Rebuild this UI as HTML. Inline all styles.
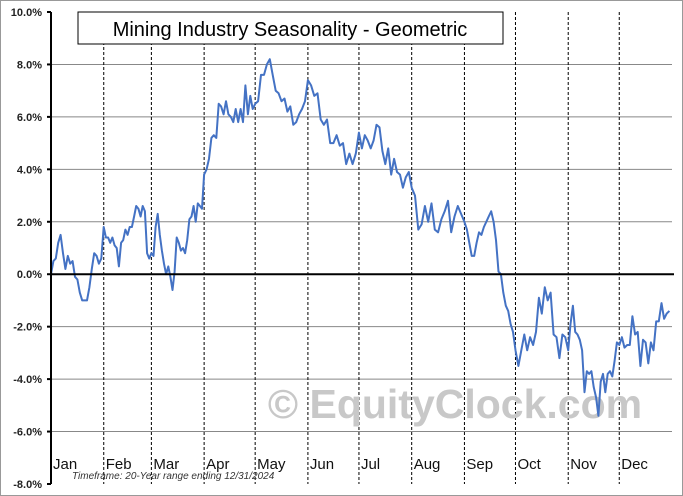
<!DOCTYPE html>
<html><head><meta charset="utf-8"><style>
body{margin:0;background:#fff}
svg{display:block;font-family:"Liberation Sans",sans-serif}
</style></head><body>
<svg width="683" height="496" viewBox="0 0 683 496" xmlns="http://www.w3.org/2000/svg">
<rect x="0.5" y="0.5" width="682" height="495" fill="#fff" stroke="#999"/>
<g id="grid"></g>
<text x="455" y="418" text-anchor="middle" font-size="41" font-weight="bold" fill="#c8c8c8">© EquityClock.com</text>
<g id="marks"></g>
<g id="axes"></g>
<rect x="78" y="12" width="425" height="32" fill="#fff" stroke="#000"/>
<text x="290" y="36" text-anchor="middle" font-size="20">Mining Industry Seasonality - Geometric</text>
<text x="72" y="479" font-size="10" font-style="italic" fill="#333">Timeframe: 20-Year range ending 12/31/2024</text>
</svg>
<script>
const monthLabels=["Jan","Feb","Mar","Apr","May","Jun","Jul","Aug","Sep","Oct","Nov","Dec"];
const monthStartDays=[0,31,59,90,120,151,181,212,243,273,304,334,365];
const yTicks=[-8,-6,-4,-2,0,2,4,6,8,10];
const janVals=[0,0.5,0.6,1.2,1.5,0.8,0.2,0.7,0.4,0.5,-0.1,-0.2,-0.7,-1.0,-1.0,-1.0,-0.5,0.2,0.8,0.7,0.4,0.6];
const febVals=[1.8,1.4,1.4,1.2,1.4,1.1,1.0,0.3,1.2,1.3,1.7,1.5,1.8,1.8,2.2,2.6,2.5,2.2,2.6,2.4,0.8,0.6];
const marVals=[0.8,0.7,1.8,2.3,1.5,0.9,0.4,0.0,0.3,-0.1,-0.6,0.1,1.4,1.2,0.9,1.0,0.8,1.3,2.1,2.2,2.6,2.0,2.7,2.6,2.5];
const aprVals=[3.8,4.0,4.4,5.2,5.3,5.2,6.5,6.4,6.1,6.6,6.1,6.0,5.8,6.3,5.8,6.3,5.8,7.2,6.1,6.8,6.3];
const mayVals=[6.5,6.6,7.6,7.6,8.0,8.2,7.6,7.0,6.9,6.6,6.7,6.2,6.4,5.7,5.8,6.1,6.3,6.6];
const junVals=[7.4,7.2,6.8,6.9,5.9,5.7,5.9,5.0,5.0,5.3,4.9,5.0,4.2,4.6,4.2,4.6];
const julVals=[5.4,4.8,5.3,5.1,4.8,5.1,5.7,5.6,4.7,4.2,4.8,3.8,4.4,3.9,3.8,3.3,3.7,3.9];
const augVals=[3.3,3.0,1.7,1.9,2.6,2.0,2.7,1.7,1.6,2.1,2.4,2.8,1.6,2.2,2.6,2.3];
const sepVals=[2.0,1.7,1.2,0.7,0.7,1.2,1.6,1.5,1.8,2.0,2.2,2.4,2.0,1.3,0.1,0.0,-0.7,-1.2,-1.4,-1.9,-2.2];
const octVals=[-2.9,-3.5,-2.9,-2.3,-2.9,-2.4,-2.7,-2.2,-0.9,-1.5,-0.5,-1.0,-0.7,-2.3,-2.4,-3.2,-2.3,-2.4];
const novVals=[-2.9,-1.9,-1.2,-2.2,-2.3,-2.5,-2.9,-4.5,-3.7,-3.8,-3.7,-4.3,-4.7,-5.4,-4.1,-3.8,-4.5,-3.8,-3.7,-3.9,-3.3,-2.6];
const decVals=[-2.7,-2.4,-2.8,-2.7,-2.7,-1.6,-2.3,-2.2,-3.5,-2.5,-2.6,-3.4,-2.6,-2.9,-1.8,-1.8,-1.1,-1.7,-1.5,-1.4];
const monthly=[janVals,febVals,marVals,aprVals,mayVals,junVals,julVals,augVals,sepVals,octVals,novVals,decVals];

const NS="http://www.w3.org/2000/svg";
const X0=51,X1=672,Y0=484,Y1=12;
const xs=d=>X0+d/365*(X1-X0);
const ys=v=>Y0-(v+8)/18*(Y0-Y1);
function mk(t,a,p){const e=document.createElementNS(NS,t);for(const k in a)e.setAttribute(k,a[k]);p.appendChild(e);return e;}
const grid=document.getElementById('grid'),axes=document.getElementById('axes'),marks=document.getElementById('marks');
yTicks.forEach(v=>{
  if(v!==0&&v!==-8&&v!==10){const l=mk('line',{x1:X0,x2:X1,y1:ys(v),y2:ys(v),stroke:'#888','stroke-width':1},grid);
  
  }
  const t=mk('text',{x:42,y:ys(v)+4,'text-anchor':'end','font-size':11,'font-weight':'bold',fill:'#222'},axes);
  t.textContent=v.toFixed(1)+'%';
  
  
  const tk=mk('line',{x1:X0-4,x2:X0,y1:ys(v),y2:ys(v),stroke:'#000','stroke-width':2},axes);
  
  
});
for(let i=1;i<12;i++){
  const l=mk('line',{x1:xs(monthStartDays[i]),x2:xs(monthStartDays[i]),y1:Y1,y2:Y0,stroke:'#000','stroke-width':1,'stroke-dasharray':'3,2'},grid);
  
  
}
monthLabels.forEach((m,i)=>{
  const t=mk('text',{x:xs(monthStartDays[i])+2,y:469,'text-anchor':'start','font-size':15,fill:'#111'},axes);
  t.textContent=m;
  
  
});
const z=mk('line',{x1:X0,x2:X1+2,y1:ys(0),y2:ys(0),stroke:'#000','stroke-width':2},axes);


const ya=mk('line',{x1:X0,x2:X0,y1:Y1,y2:Y0,stroke:'#000','stroke-width':2},axes);


let pts=[];
monthly.forEach((arr,i)=>{
  const a=monthStartDays[i],b=monthStartDays[i+1];
  arr.forEach((v,j)=>{pts.push(xs(a+(b-a)*j/arr.length).toFixed(1)+','+ys(v).toFixed(1));});
});
const pl=mk('polyline',{points:pts.join(' '),fill:'none',stroke:'#4472c4','stroke-width':2,'stroke-linejoin':'round'},marks);


</script>
</body></html>
